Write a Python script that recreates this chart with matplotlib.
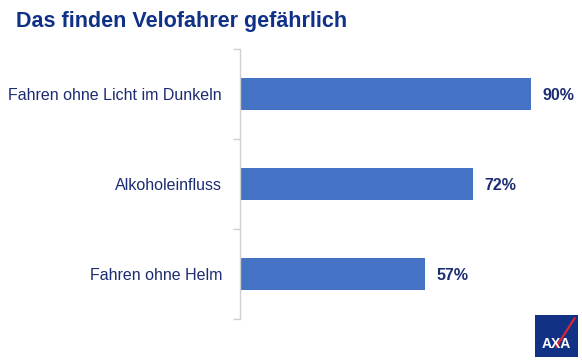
import matplotlib
matplotlib.use("Agg")
import matplotlib.pyplot as plt
from matplotlib.patches import Rectangle
from matplotlib.lines import Line2D

categories = ["Fahren ohne Licht im Dunkeln", "Alkoholeinfluss", "Fahren ohne Helm"]
values = [90, 72, 57]
value_labels = ["90%", "72%", "57%"]
title = "Das finden Velofahrer gefährlich"

W, H = 582, 364
fig = plt.figure(figsize=(W / 100, H / 100), dpi=100)
plt.rcParams['font.family'] = ['Liberation Sans', 'DejaVu Sans']

bar_color = "#4472c4"
navy = "#1c2c72"
title_color = "#0f3188"

ax_left, ax_right = 240 / W, 562 / W
ax_top, ax_bottom = 1 - 49 / H, 1 - 319 / H
ax = fig.add_axes([ax_left, ax_bottom, ax_right - ax_left, ax_top - ax_bottom])

y = list(range(len(categories)))
ax.barh(y, values, height=0.36, color=bar_color, left=0.4)
ax.set_ylim(len(categories) - 0.5, -0.5)
ax.set_xlim(0, 100)

for yi, v, lab in zip(y, values, value_labels):
    ax.text(v + 0.4 + 3.5, yi + 0.02, lab, va="center", ha="left", fontsize=11.5,
            fontweight="bold", color=navy)

ax.set_yticks([i - 0.5 for i in range(len(categories) + 1)])
ax.set_yticklabels([])
ax.set_yticks(y, minor=True)
ax.set_yticklabels(categories, minor=True, fontsize=11.5, color=navy)
ax.tick_params(axis="y", which="major", length=5, color="#d0d0d0", width=1)
ax.tick_params(axis="y", which="minor", length=0, pad=13)
ax.set_xticks([])
for s in ["top", "right", "bottom"]:
    ax.spines[s].set_visible(False)
ax.spines["left"].set_color("#d0d0d0")
ax.spines["left"].set_linewidth(1)

fig.text(16 / W, 1 - 21 / H, title, fontsize=15.5, fontweight="bold",
         color=title_color, va="center", ha="left")

# AXA logo
lx0, ly0, lw, lh = 535 / W, 1 - 357 / H, 43 / W, 42 / H
fig.patches.append(Rectangle((lx0, ly0), lw, lh, transform=fig.transFigure,
                             facecolor="#103184", edgecolor="none"))
fig.lines.append(Line2D([lx0 + lw * 0.5, lx0 + lw * 0.92], [ly0 + lh * 0.25, ly0 + lh * 0.92],
                        transform=fig.transFigure, color="#e5242e", lw=1.5))
fig.text(lx0 + lw / 2, ly0 + lh * 0.3, "AXA", fontsize=10, fontweight="bold",
         color="white", ha="center", va="center")

fig.savefig("out.png", dpi=100)
